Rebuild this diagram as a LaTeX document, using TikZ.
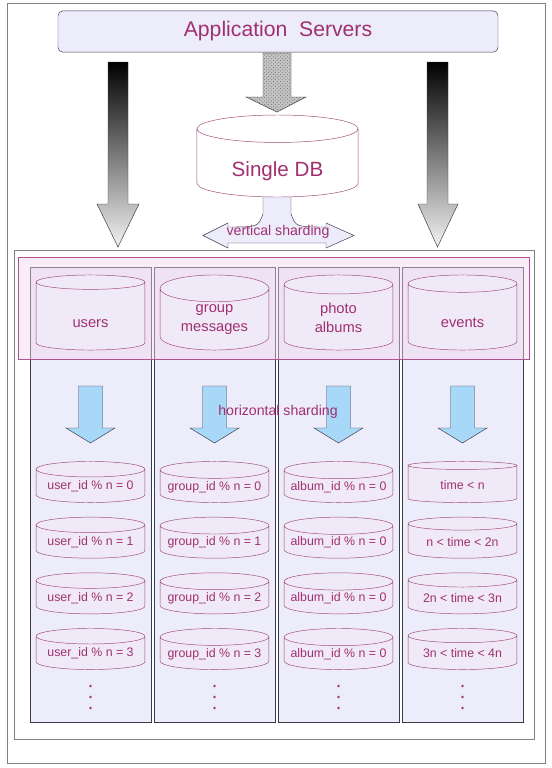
\documentclass[tikz,border=0pt]{standalone}
\usepackage{fontspec}
\setmainfont{Liberation Sans}
\usetikzlibrary{shapes.geometric,patterns,positioning}

\definecolor{txtmag}{HTML}{A03070}
\definecolor{dbline}{HTML}{A04878}
\definecolor{lav}{HTML}{ECECFA}
\definecolor{dbfill}{HTML}{F0EAF8}
\definecolor{bandfill}{HTML}{F6D8F0}
\definecolor{bandline}{HTML}{B0508C}
\definecolor{skyarrow}{HTML}{A8D8F8}
\definecolor{framegray}{HTML}{808080}
\definecolor{colline}{HTML}{3A3A48}

\tikzset{
  appbox/.style={draw=colline, fill=lav, rounded corners=4pt, minimum width=374pt, minimum height=35pt, text=txtmag, font=\fontsize{18}{20}\selectfont},
  db/.style={cylinder, shape border rotate=90, anchor=shape center, draw=dbline, fill=dbfill, text=txtmag, inner sep=0pt, align=center},
  bigdb/.style={db, fill=white, minimum width=136.9pt, minimum height=69.7pt, aspect=0.3, font=\fontsize{17.5}{20}\selectfont, execute at begin node={\rule{0pt}{26pt}}},
  topdb/.style={db, minimum width=92.6pt, minimum height=63.8pt, aspect=0.4, font=\fontsize{12.5}{16}\selectfont, execute at begin node={\rule{0pt}{18.5pt}}},
  smalldb/.style={db, minimum width=92.6pt, minimum height=34.9pt, aspect=0.18, font=\fontsize{10.5}{12}\selectfont, execute at begin node={\rule{0pt}{8.6pt}}},
  col/.style={draw=colline, fill=lav},
  sky/.style={draw=colline, fill=skyarrow},
  shardlbl/.style={text=txtmag, font=\fontsize{12}{14}\selectfont, inner sep=0pt},
}

\begin{document}
\begin{tikzpicture}[x=0.85pt,y=-0.85pt]
  \useasboundingbox (0,0) rectangle (552,768);
  \draw[framegray, line width=0.6pt, fill=white] (7,3) rectangle (545,763);

  % top
  \node[appbox] (app) at (278,31.5) {Application\ \ Servers};

  \shade[draw=colline, top color=black, bottom color=gray!10] (108,62) -- (128,62) -- (128,204) -- (139,204) -- (118,247) -- (97,204) -- (108,204) -- cycle;
  \shade[draw=colline, top color=black, bottom color=gray!10] (427,62) -- (448,62) -- (448,204) -- (458,204) -- (437.5,247) -- (418,204) -- (427,204) -- cycle;
  \draw[colline, preaction={fill=gray!45}, pattern=crosshatch dots, pattern color=black!55] (263,53) -- (291,53) -- (291,97) -- (306,97) -- (277,112) -- (246,97) -- (263,97) -- cycle;

  % vertical sharding
  \draw[colline, fill=lav] (263,180) -- (263,214) .. controls (258,227) .. (228,227) -- (228,223) -- (203,235.5) -- (228,248) -- (228,243) -- (326,243) -- (326,248) -- (354,235.5) -- (326,223) -- (326,227) .. controls (296,227) .. (291,214) -- (291,180);
  \node[bigdb] (single) at (277.5,156) {Single DB};
  \node[shardlbl] (vlbl) at (278,232) {vertical sharding};

  % shards
  \draw[framegray, line width=0.6pt, fill=white] (14,250) rectangle (534,739);
  \foreach \i in {0,1,2,3}
    \draw[col] (30+124*\i,267) rectangle (151+124*\i,722);
  \draw[bandline, fill=bandfill, fill opacity=0.45] (18,257) rectangle (529,359);

  \node[topdb] (users) at (90.5,312.5) {users};
  \node[topdb] (groups) at (214.5,312.5) {group\\messages};
  \node[topdb] (albums) at (338.5,312.5) {photo\\albums};
  \node[topdb] (events) at (462.5,312.5) {events};

  \foreach \cx in {90.5,214.5,338.5,462.5} {
    \draw[sky] (\cx-12,386) -- (\cx+12,386) -- (\cx+12,428) -- (\cx+24.5,428) -- (\cx,443) -- (\cx-24.5,428) -- (\cx-12,428) -- cycle;
    \foreach \dy in {686,697,708}
      \fill[txtmag] (\cx,\dy) circle (1.4);
  }
  \node[shardlbl] (hlbl) at (278,412) {horizontal sharding};

  \foreach \r in {0,1,2,3} {
    \node[smalldb] (u\r) at (90.5,482+55.67*\r) {user\_id \% n = \r};
    \node[smalldb] (g\r) at (214.5,482+55.67*\r) {group\_id \% n = \r};
    \node[smalldb] (a\r) at (338.5,482+55.67*\r) {album\_id \% n = 0};
  }
  \node[smalldb] (t0) at (462.5,482) {time < n};
  \node[smalldb] (t1) at (462.5,537.67) {n < time < 2n};
  \node[smalldb] (t2) at (462.5,593.33) {2n < time < 3n};
  \node[smalldb] (t3) at (462.5,649) {3n < time < 4n};
\end{tikzpicture}
\end{document}
